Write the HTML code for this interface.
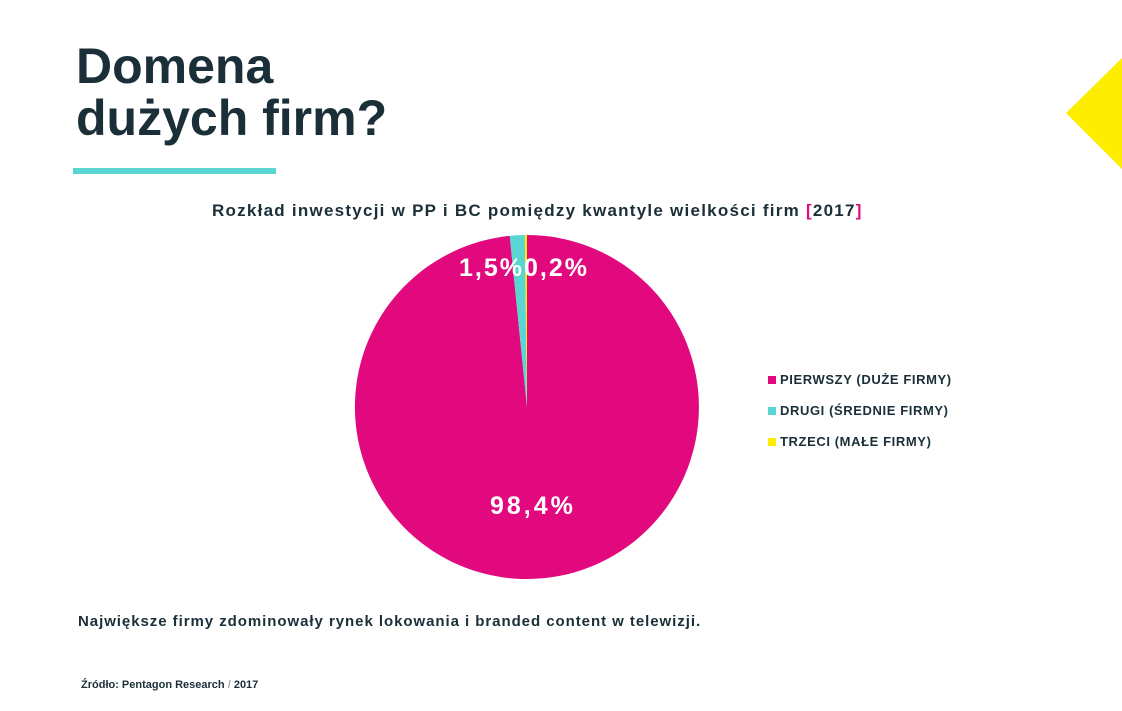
<!DOCTYPE html>
<html><head><meta charset="utf-8"><style>
body{margin:0;width:1122px;height:711px;background:#fff;overflow:hidden;position:relative;font-family:"Liberation Sans",sans-serif;color:#1b2f38}
.t{position:absolute;left:76px;top:40px;font-size:50px;font-weight:bold;line-height:52px;letter-spacing:0px}
.bar{position:absolute;left:73px;top:168px;width:203px;height:6px;background:#5ad6d2}
.sub{position:absolute;left:212px;top:201px;font-size:17px;font-weight:bold;letter-spacing:1.25px;white-space:nowrap}
.leg{position:absolute;left:768px;font-size:13px;font-weight:bold;letter-spacing:0.6px}
.leg i{display:inline-block;width:8px;height:8px;margin-right:4px;vertical-align:0}
.foot{position:absolute;left:78px;top:613px;font-size:15px;font-weight:bold;letter-spacing:0.95px;white-space:nowrap}
.src{position:absolute;left:81px;top:679px;font-size:11px;font-weight:bold}
</style></head><body>
<div class="t">Domena<br>dużych firm?</div>
<div class="bar"></div>
<svg style="position:absolute;left:0;top:0" width="1122" height="711">
<polygon points="1122,58 1066,113 1122,169" fill="#ffed00"/>
<path d="M527,407 L527,235 A172,172 0 1 1 509.73,235.86 Z" fill="#e2097f"/>
<path d="M527,407 L509.73,235.86 A172,172 0 0 1 524.84,235.01 Z" fill="#5ad6d2"/>
<path d="M527,407 L524.84,235.01 A172,172 0 0 1 527,235 Z" fill="#ffed00"/>
<g fill="#fff" font-family="Liberation Sans" font-weight="bold" font-size="25" letter-spacing="2">
<text x="459" y="276">1,5%</text><text x="524" y="276">0,2%</text>
<text x="490" y="514" letter-spacing="3">98,4%</text></g>
</svg>
<div class="sub">Rozkład inwestycji w PP i BC pomiędzy kwantyle wielkości firm <span style="color:#e2097f">[</span>2017<span style="color:#e2097f">]</span></div>
<div class="leg" style="top:372px"><i style="background:#e2097f"></i>PIERWSZY (DUŻE FIRMY)</div>
<div class="leg" style="top:403px"><i style="background:#5ad6d2"></i>DRUGI (ŚREDNIE FIRMY)</div>
<div class="leg" style="top:434px"><i style="background:#ffed00"></i>TRZECI (MAŁE FIRMY)</div>
<div class="foot">Największe firmy zdominowały rynek lokowania i branded content w telewizji.</div>
<div class="src">Źródło: Pentagon Research <span style="color:#aaa">/</span> 2017</div>
</body></html>
